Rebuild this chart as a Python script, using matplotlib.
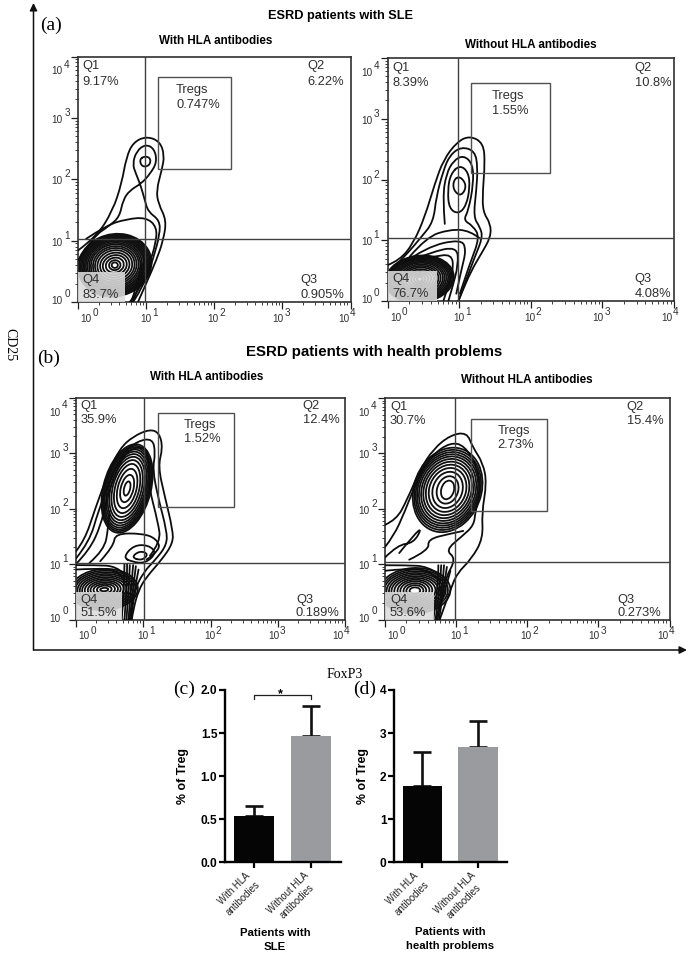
import numpy as np
import matplotlib
matplotlib.use('Agg')
import matplotlib.pyplot as plt
from matplotlib.patches import Ellipse, Rectangle, PathPatch, FancyArrowPatch
from matplotlib.path import Path
from matplotlib.transforms import ScaledTranslation

plt.rcParams['font.family'] = ['Liberation Sans', 'DejaVu Sans']

W, H = 691, 957

# flow panels: contour outlines, in decades (log10 x, log10 y)
a_lines = [
    [(0,.84),(.27,1.06),(.51,1.49),(.64,1.93),(.71,2.36),(.81,2.6),(1,2.7),(1.2,2.62),(1.27,2.39),(1.23,2.15),(1.15,1.82),(1.18,1.6),(1.3,1.33),(1.25,1),(1.15,.68),(1,.3),(.88,0)],
    [(0,.68),(.22,1.06),(.47,1.25),(.61,1.39),(.66,1.66),(.76,1.82),(.93,1.93),(1.06,2.09),(1.16,2.28),(1.12,2.5),(.99,2.57),(.86,2.46),(.8,2.25),(.85,2.09),(.92,1.9),(.98,1.66),(1.03,1.47),(1.2,1.33),(1.2,1.1),(1.11,.73),(.98,.3),(.81,0)],
    [(.12,1.03),(.42,1.25),(.71,1.35),(1,1.38),(1.16,1.22),(1.14,.95),(1.05,.63),(.93,.25),(.76,0)],
    [(.98,2.38),(1.07,2.34),(1.05,2.22),(.94,2.2),(.9,2.32),(.98,2.38)],
    [(.98,.72),(.94,.4),(.84,.1),(.8,0)],
    [(.94,.62),(.88,.32),(.78,0)],
]
a_rings_c = [(.54,.6)]
a_rings_w = [.09,.17,.27,.36,.44,.52,.59,.65,.71,.76,.81,.86,.9,.94,.98,1.02,1.06,1.1]
a_rings_h = [.09,.16,.24,.32,.4,.48,.55,.61,.67,.72,.77,.81,.85,.89,.92,.95,.98,1.0]
a_rings_ang = [28]

b_lines = [
    [(0,.59),(.17,.67),(.36,.95),(.52,1.38),(.66,1.93),(.78,2.32),(.97,2.62),(1.15,2.72),(1.34,2.6),(1.36,2.26),(1.33,1.82),(1.33,1.47),(1.44,1.27),(1.44,1.05),(1.31,.78),(1.17,.5),(1.03,.12),(.99,0)],
    [(0,.45),(.24,.73),(.47,1.05),(.64,1.3),(.68,1.71),(.78,2.15),(.87,2.4),(1.03,2.54),(1.22,2.47),(1.26,2.2),(1.24,1.82),(1.2,1.38),(1.29,1.22),(1.33,1.05),(1.22,.73),(1.08,.29),(.99,0)],
    [(.8,1.27),(.77,1.71),(.82,2.09),(.92,2.31),(1.06,2.4),(1.19,2.26),(1.2,1.93),(1.13,1.49),(1.06,1.33),(1.19,1.24),(1.29,1.05),(1.15,.62),(1.01,.12)],
    [(1.01,2.24),(1.13,2.12),(1.15,1.87),(1.1,1.57),(.99,1.43),(.86,1.52),(.84,1.82),(.88,2.09),(1.01,2.24)],
    [(1.01,2.06),(1.11,1.9),(1.03,1.72),(.92,1.82),(.92,1.99),(1.01,2.06)],
    [(.31,.73),(.54,1.05),(.87,1.18),(1.15,1.16),(1.29,1.03)],
    [(.22,.62),(.54,.89),(1.03,1.02),(1.1,.84),(1.03,.51),(.96,.12)],
    [(.28,.65),(.6,.8),(.97,.9),(.99,.6),(.9,.2),(.85,0)],
    [(.35,.7),(.62,.72),(.9,.78),(.92,.5),(.82,.15),(.78,0)],
]
b_rings_c = [(.45,.36)]
b_rings_w = [.08,.16,.24,.32,.4,.47,.53,.59,.65,.7,.75,.8,.84,.88,.92,.96]
b_rings_h = [.08,.14,.2,.26,.32,.38,.43,.48,.53,.57,.61,.65,.68,.71,.74,.77]
b_rings_ang = [12]

c_lines = [
    [(0,1.23),(.13,1.43),(.28,1.98),(.48,2.64),(.65,3.08),(.85,3.3),(1.1,3.43),(1.24,3.36),(1.29,3.09),(1.22,2.76),(1.32,2.22),(1.44,1.61),(1.44,1.37),(1.27,1.07),(1.05,.77),(.93,.53),(.85,.17),(.83,0)],
    [(0,1.1),(.2,1.4),(.33,1.95),(.52,2.55),(.7,3.0),(.92,3.22),(1.14,3.26),(1.18,3.0),(1.14,2.7),(1.22,2.2),(1.35,1.6),(1.35,1.35),(1.2,1.1),(1,.85),(.86,.5),(.8,0)],
    [(0,1),(.2,1.25),(.37,1.7),(.44,2.1),(.6,2.7),(.78,3.07),(1.04,3.12),(1.09,2.8),(1.08,2.4),(1.22,1.75),(1.26,1.4),(1.1,1.15)],
    [(.2,1.02),(.42,1.25),(.48,1.65),(.5,1.95)],
    [(.36,1.05),(.56,1.32),(.58,1.55),(1.0,1.55),(1.2,1.45),(1.26,1.25),(1.05,1.08)],
    [(.7,1.12),(.86,1.34),(1.08,1.34),(1.2,1.2),(1.03,1.01),(.83,1.04),(.7,1.12)],
    [(.82,1.12),(.95,1.24),(1.08,1.18),(.98,1.06),(.82,1.12)],
    [(.72,1),(.72,.6),(.68,0)], [(.76,1),(.76,.6),(.72,0)], [(.8,.98),(.79,.6),(.75,0)],
    [(.85,.98),(.82,.6),(.78,0)], [(.89,.96),(.85,.6),(.8,0)], [(.93,.9),(.87,.55),(.82,0)],
    [(0,.98),(.3,.98),(.6,.96),(.72,.82)],
    [(0,.9),(.3,.92),(.6,.9),(.72,.72)],
]
c_rings_c = [(.76,2.36)]
c_rings_w = [.09,.19,.28,.36,.43,.49,.54,.58,.62,.65,.68,.71]
c_rings_h = [.26,.5,.72,.9,1.04,1.16,1.26,1.35,1.43,1.5,1.56,1.62]
c_rings_ang = [-11]
c_low_c = [(.42,.54)]
c_low_w = [.12,.22,.32,.41,.49,.58,.66,.73,.8,.87,.93,1.0]
c_low_h = [.06,.14,.2,.26,.32,.38,.44,.5,.56,.62,.68,.74]
c_low_ang = [5]

d_lines = [
    [(0,1.71),(.16,1.8),(.31,2.16),(.49,2.7),(.68,3.08),(.92,3.33),(1.15,3.38),(1.23,3.12),(1.38,2.82),(1.43,2.46),(1.36,1.92),(1.38,1.47),(1.22,1.1),(1.01,.83),(.92,.53),(.85,.29),(.77,0)],
    [(0,1.31),(.12,1.5),(.28,1.95),(.46,2.55),(.66,2.97),(.92,3.2),(1.12,3.14),(1.3,2.75),(1.34,2.3),(1.27,1.95),(1.25,1.7),(1.08,1.5),(.85,1.25),(1,1.1),(.85,.75),(.78,.3),(.72,0)],
    [(0,1.12),(.18,1.35),(.4,1.38),(.52,1.65),(.42,1.55),(.2,1.2)],
    [(.34,1.08),(.62,1.25),(.6,1.45),(.92,1.55),(1.1,1.6)],
    [(.75,.98),(.75,.6),(.68,0)], [(.79,.98),(.78,.6),(.71,0)], [(.83,.98),(.81,.6),(.74,0)],
    [(.87,.95),(.83,.6),(.76,0)], [(.92,.88),(.84,.5),(.74,.1)],
    [(0,.98),(.3,.98),(.6,.96),(.76,.82)],
    [(0,.88),(.3,.92),(.6,.9),(.76,.72)],
]
d_rings_c = [(.88,2.34)]
d_rings_w = [.18,.3,.42,.52,.6,.67,.73,.79,.84,.88,.92,.96]
d_rings_h = [.34,.5,.66,.8,.92,1.03,1.13,1.22,1.3,1.38,1.46,1.54]
d_rings_ang = [-10]
d_low_c = [(.42,.52)]
d_low_w = [.15,.24,.32,.41,.49,.58,.66,.73,.8,.87,.93,1.0]
d_low_h = [.12,.2,.27,.34,.4,.46,.52,.58,.64,.7,.76,.82]
d_low_ang = [5]

# gates: vertical and horizontal quadrant lines, Tregs box (x0, x1, y0, y1)
a_gate = (.99, 1.02, 1.18, 2.25, 2.16, 3.67)
b_gate = (.98, 1.04, 1.16, 2.27, 2.11, 3.59)
c_gate = (1.01, 1.02, 1.22, 2.35, 2.02, 3.72)
d_gate = (.99, 1.03, 1.21, 2.28, 1.96, 3.62)

a_pct = ['9.17%', '6.22%', '0.905%', '83.7%', '0.747%']
b_pct = ['8.39%', '10.8%', '4.08%', '76.7%', '1.55%']
c_pct = ['35.9%', '12.4%', '0.189%', '51.5%', '1.52%']
d_pct = ['30.7%', '15.4%', '0.273%', '53.6%', '2.73%']

# bar panels
bar_cats = ['With HLA\nantibodies', 'Without HLA\nantibodies']
sle_vals = [0.54, 1.47]
sle_tops = [0.65, 1.82]
hp_vals = [1.77, 2.67]
hp_tops = [2.56, 3.27]
bar_colors = ['#050505', '#9a9b9e']


def px_axes(fig, x0, x1, y0, y1):
    return fig.add_axes([x0 / W, 1 - y1 / H, (x1 - x0) / W, (y1 - y0) / H])


def smooth_path(ln):
    # points become control points of quadratic segments, so the outline rounds off
    pts = np.array(ln, dtype=float)
    if len(pts) < 3:
        return Path(pts)
    closed = np.allclose(pts[0], pts[-1])
    if closed:
        pts = pts[:-1]
        start = (pts[-1] + pts[0]) / 2
        verts = [start]
        codes = [Path.MOVETO]
        for i in range(len(pts)):
            verts += [pts[i], (pts[i] + pts[(i + 1) % len(pts)]) / 2]
            codes += [Path.CURVE3, Path.CURVE3]
        return Path(verts, codes)
    verts = [pts[0]]
    codes = [Path.MOVETO]
    for i in range(1, len(pts) - 1):
        end = pts[-1] if i == len(pts) - 2 else (pts[i] + pts[i + 1]) / 2
        verts += [pts[i], end]
        codes += [Path.CURVE3, Path.CURVE3]
    return Path(verts, codes)


def draw_rings(ax, center, widths, heights, angle, lw=1.3):
    for w, h in zip(widths, heights):
        ax.add_patch(Ellipse(center[0], w, h, angle=angle[0], fill=False, ec='#101010', lw=lw, zorder=2))


def flow_panel(fig, box, lines, rings, gate, pct, q2x, q3x, treg_x):
    ax = px_axes(fig, *box)
    for ln in lines:
        ax.add_patch(PathPatch(smooth_path(ln), fill=False, ec='#0d0d0d', lw=1.3, zorder=3, capstyle='round'))
    for r in rings:
        draw_rings(ax, *r)
    vx, hy, tx0, tx1, ty0, ty1 = gate
    ax.axvline(vx, color='#404040', lw=1.0, zorder=4)
    ax.axhline(hy, color='#404040', lw=1.0, zorder=4)
    ax.add_patch(Rectangle((tx0, ty0), tx1 - tx0, ty1 - ty0, fill=False, ec='#505050', lw=1.0, zorder=4))
    ax.add_patch(Rectangle((0, 0), .69, .49, fc='#dcdcdc', ec='none', alpha=.88, zorder=5))
    tc = '#303030'
    fs = 9.3
    ax.text(.07, 3.84, 'Q1', color=tc, fontsize=fs, va='center', zorder=6)
    ax.text(.07, 3.59, pct[0], color=tc, fontsize=fs, va='center', zorder=6)
    ax.text(q2x, 3.84, 'Q2', color=tc, fontsize=fs, va='center', zorder=6)
    ax.text(q2x, 3.59, pct[1], color=tc, fontsize=fs, va='center', zorder=6)
    ax.text(q3x, .36, 'Q3', color=tc, fontsize=fs, va='center', zorder=6)
    ax.text(q3x, .12, pct[2], color=tc, fontsize=fs, va='center', zorder=6)
    ax.text(.07, .36, 'Q4', color=tc, fontsize=fs, va='center', zorder=6)
    ax.text(.07, .12, pct[3], color=tc, fontsize=fs, va='center', zorder=6)
    ax.text(treg_x, ty1 - .21, 'Tregs', color=tc, fontsize=fs, va='center', zorder=6)
    ax.text(treg_x, ty1 - .46, pct[4], color=tc, fontsize=fs, va='center', zorder=6)

    ax.set_xlim(0, 4)
    ax.set_ylim(0, 4)
    major = [0, 1, 2, 3, 4]
    minor = [k + np.log10(m) for k in range(4) for m in range(2, 10)]
    ax.set_xticks(major, ['10'] * 5, fontsize=7.2, color='#303030')
    ax.set_yticks(major, ['10'] * 5, fontsize=7.2, color='#303030')
    ax.set_xticks(minor, minor=True)
    ax.set_yticks(minor, minor=True)
    ax.tick_params(which='major', length=5, width=.9, pad=3.5, color='#202020')
    ax.tick_params(axis='y', which='major', pad=6)
    ax.tick_params(which='minor', length=2.5, width=.6, color='#202020')
    xshift = [8, 0, -1, -4, -7]
    yshift = [2, -1, -1, -1, -14]
    for k, lab, dx in zip(major, ax.get_xticklabels(), xshift):
        lab.set_transform(lab.get_transform() + ScaledTranslation(dx / 100, 0, fig.dpi_scale_trans))
        ax.annotate(str(k), (k, 0), xycoords=('data', 'axes fraction'), xytext=(dx + 9, -11), textcoords='offset pixels',
                    fontsize=7.2, color='#303030', ha='center', va='center', annotation_clip=False)
    for k, lab, dy in zip(major, ax.get_yticklabels(), yshift):
        lab.set_transform(lab.get_transform() + ScaledTranslation(0, dy / 100, fig.dpi_scale_trans))
        ax.annotate(str(k), (0, k), xycoords=('axes fraction', 'data'), xytext=(-11, dy + 6), textcoords='offset pixels',
                    fontsize=7.2, color='#303030', ha='center', va='center', annotation_clip=False)
    for sp in ax.spines.values():
        sp.set_linewidth(1.2)
        sp.set_color('#303030')
    return ax


def bar_panel(fig, box, vals, tops, ymax, yticks, ylabels, xlim, ylab_x):
    ax = px_axes(fig, *box)
    x = np.arange(2)
    ax.bar(x, vals, width=.71, color=bar_colors, zorder=2)
    for i in x:
        ax.errorbar(i, vals[i], yerr=[[0], [tops[i] - vals[i]]], color='#101010', lw=1.9, capsize=6.5,
                    capthick=1.9, zorder=1, clip_on=False)
    ax.set_xlim(*xlim)
    ax.set_ylim(0, ymax)
    ax.set_xticks(x, bar_cats, rotation=45, ha='right', rotation_mode='anchor', fontsize=6.9,
                  linespacing=1.35, color='#222222', multialignment='center')
    ax.set_yticks(yticks, ylabels, fontsize=8.6, fontweight='bold')
    ax.tick_params(axis='both', length=4, width=1.6)
    ax.tick_params(axis='x', pad=3)
    ax.tick_params(axis='y', pad=1.5)
    # tick_params resets label transforms, so shift after it
    for lab in ax.get_xticklabels():
        lab.set_transform(lab.get_transform() + ScaledTranslation(-.08, .02, fig.dpi_scale_trans))
    ax.set_ylabel('% of Treg', fontsize=8.9, fontweight='bold')
    ax.yaxis.set_label_coords(ylab_x, .5)
    ax.spines['top'].set_visible(False)
    ax.spines['right'].set_visible(False)
    ax.spines['left'].set_linewidth(1.7)
    ax.spines['bottom'].set_linewidth(1.7)
    return ax


fig = plt.figure(figsize=(W / 100, H / 100), dpi=100, facecolor='white')

flow_panel(fig, (78, 350.5, 56.5, 302), a_lines,
           [(a_rings_c, a_rings_w, a_rings_h, a_rings_ang)], a_gate, a_pct, 3.37, 3.27, 1.44)
flow_panel(fig, (387.5, 674, 58, 301), b_lines,
           [(b_rings_c, b_rings_w, b_rings_h, b_rings_ang)], b_gate, b_pct, 3.45, 3.45, 1.46)
flow_panel(fig, (76, 345, 397.5, 619.5), c_lines,
           [(c_rings_c, c_rings_w, c_rings_h, c_rings_ang), (c_low_c, c_low_w, c_low_h, c_low_ang)],
           c_gate, c_pct, 3.37, 3.27, 1.6)
flow_panel(fig, (385, 669.5, 398, 619.5), d_lines,
           [(d_rings_c, d_rings_w, d_rings_h, d_rings_ang), (d_low_c, d_low_w, d_low_h, d_low_ang)],
           d_gate, d_pct, 3.4, 3.27, 1.58)

ax_c = bar_panel(fig, (225, 341, 690, 862.3), sle_vals, sle_tops, 2.0,
                 [0, .5, 1, 1.5, 2], ['0.0', '0.5', '1.0', '1.5', '2.0'], (-.509, 1.526), -.31)
ax_d = bar_panel(fig, (394.3, 506.7, 690, 862.3), hp_vals, hp_tops, 4,
                 [0, 1, 2, 3, 4], ['0', '1', '2', '3', '4'], (-.508, 1.517), -.225)

# significance bracket
ax_c.plot([0, 0, 1, 1], [1.89, 1.94, 1.94, 1.89], color='#202020', lw=.9, clip_on=False)
ax_c.text(.46, 1.885, '*', ha='center', va='bottom', fontsize=9, fontweight='bold', clip_on=False)


def ftext(px, py, s, **kw):
    fig.text(px / W, 1 - py / H, s, **kw)


serif = ['Liberation Serif', 'DejaVu Serif']
ftext(40, 25, '(a)', family=serif, fontsize=14, va='center')
ftext(37, 358, '(b)', family=serif, fontsize=14, va='center')
ftext(173, 689, '(c)', family=serif, fontsize=14, va='center')
ftext(353, 689, '(d)', family=serif, fontsize=14, va='center')
ftext(341, 16, 'ESRD patients with SLE', fontsize=9.2, fontweight='bold', ha='center', va='center')
ftext(374, 352, 'ESRD patients with health problems', fontsize=10.8, fontweight='bold', ha='center', va='center')
ftext(216, 41, 'With HLA antibodies', fontsize=8.4, fontweight='bold', ha='center', va='center')
ftext(531, 45, 'Without HLA antibodies', fontsize=8.4, fontweight='bold', ha='center', va='center')
ftext(207, 377, 'With HLA antibodies', fontsize=8.4, fontweight='bold', ha='center', va='center')
ftext(527, 380, 'Without HLA antibodies', fontsize=8.4, fontweight='bold', ha='center', va='center')
ftext(10, 345, 'CD25', family=serif, fontsize=10, rotation=270, ha='center', va='center')
ftext(345, 675, 'FoxP3', family=serif, fontsize=10, ha='center', va='center')
ftext(275, 940, 'Patients with\nSLE', fontsize=8.2, fontweight='bold', ha='center', va='center', linespacing=1.4)
ftext(450, 939, 'Patients with\nhealth problems', fontsize=8.2, fontweight='bold', ha='center', va='center', linespacing=1.4)

# long axes arrows around the flow panels
arrow = dict(arrowstyle='-|>', color='#101010', lw=1.1, mutation_scale=11, shrinkA=0, shrinkB=0)
fig.add_artist(FancyArrowPatch((33.5 / W, 1 - 650 / H), (33.5 / W, 1 - 3 / H),
                               transform=fig.transFigure, **arrow))
fig.add_artist(FancyArrowPatch((33.5 / W, 1 - 650 / H), (687 / W, 1 - 650 / H),
                               transform=fig.transFigure, **arrow))

fig.savefig('out.png', dpi=100)
